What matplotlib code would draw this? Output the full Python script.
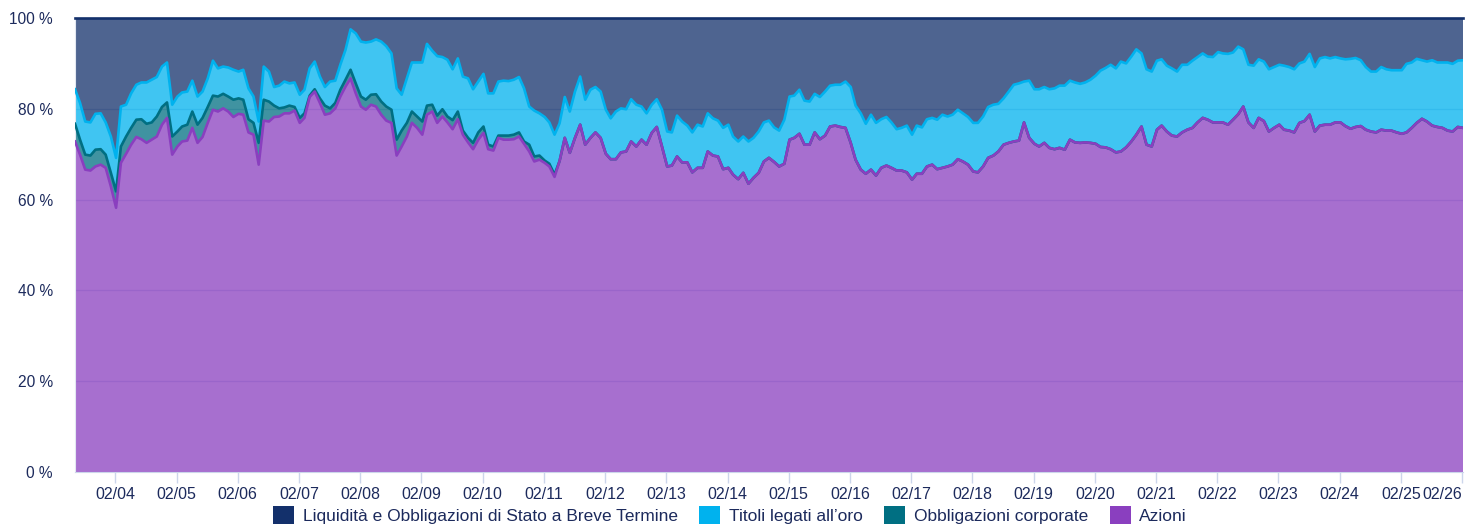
import matplotlib
matplotlib.use("Agg")
import matplotlib.pyplot as plt
import numpy as np
import pandas as pd
from matplotlib.patches import Patch

plt.rcParams['font.family'] = ['Liberation Sans', 'DejaVu Sans']

# ---------------- data (monthly, % of portfolio) ----------------
dates = pd.date_range('2003-06-06', periods=273, freq=pd.DateOffset(months=1)).to_pydatetime()

azioni = [
    72.8, 69.9, 66.6, 66.4, 67.3, 67.7, 67.0, 62.9, 58.2, 68.1,
    70.1, 72.1, 73.8, 73.3, 72.5, 73.2, 73.9, 76.5, 78.0, 69.9,
    71.7, 72.8, 73.0, 75.8, 72.5, 73.8, 76.9, 79.8, 79.4, 80.1,
    79.4, 78.2, 78.9, 78.7, 74.8, 74.3, 67.7, 77.4, 77.2, 78.2,
    78.3, 79.0, 79.0, 79.6, 76.9, 78.0, 82.6, 83.8, 81.3, 78.7,
    79.0, 80.1, 82.7, 84.9, 86.7, 83.4, 80.5, 79.8, 80.9, 80.5,
    78.7, 77.4, 76.9, 69.7, 71.7, 73.9, 76.9, 75.8, 74.3, 78.7,
    79.4, 76.9, 78.3, 77.0, 75.5, 77.7, 74.3, 72.6, 71.1, 73.2,
    74.7, 71.1, 70.8, 73.6, 73.2, 73.2, 73.3, 73.9, 72.3, 70.6,
    68.4, 68.8, 68.1, 67.3, 65.0, 68.5, 73.6, 70.3, 73.6, 76.5,
    72.1, 73.6, 74.8, 73.6, 70.1, 68.9, 68.9, 70.4, 70.6, 72.8,
    71.7, 73.2, 72.1, 74.7, 76.0, 71.7, 67.3, 67.5, 69.5, 68.2,
    68.2, 66.0, 67.0, 67.0, 70.6, 69.7, 69.5, 66.7, 67.0, 65.5,
    64.5, 65.9, 63.5, 64.8, 65.9, 68.4, 69.2, 68.3, 67.3, 67.9,
    73.2, 73.6, 74.5, 72.1, 72.1, 74.8, 73.3, 74.1, 76.1, 76.3,
    76.0, 75.8, 72.5, 68.8, 66.6, 65.7, 66.6, 65.3, 67.0, 67.5,
    67.0, 66.4, 66.4, 66.0, 64.4, 65.7, 65.7, 67.3, 67.7, 66.7,
    67.0, 67.3, 67.7, 68.9, 68.4, 67.7, 66.2, 66.0, 67.3, 69.2,
    69.7, 70.6, 72.1, 72.5, 72.8, 73.0, 77.0, 73.6, 72.3, 71.7,
    72.5, 71.4, 71.1, 71.4, 71.0, 73.2, 72.6, 72.5, 72.6, 72.5,
    72.3, 71.6, 71.5, 71.1, 70.4, 70.6, 71.5, 72.8, 74.3, 76.1,
    72.1, 71.7, 75.4, 76.3, 75.0, 74.1, 73.9, 74.8, 75.4, 75.8,
    77.0, 78.0, 77.6, 77.0, 77.0, 77.0, 76.5, 77.6, 78.8, 80.5,
    77.0, 75.8, 78.0, 77.3, 75.0, 75.8, 76.5, 75.4, 75.2, 74.8,
    76.9, 77.3, 78.7, 75.0, 76.3, 76.5, 76.5, 77.0, 77.0, 76.2,
    75.6, 76.0, 76.2, 75.4, 75.0, 74.8, 75.4, 75.2, 75.2, 74.8,
    74.5, 74.8, 75.8, 76.9, 77.8, 77.2, 76.3, 76.0, 75.8, 75.2,
    75.0, 76.0, 75.8,
]

corporate = [
    3.9, 3.3, 3.3, 3.3, 3.7, 3.4, 2.9, 3.0, 3.6, 3.6,
    3.8, 3.7, 3.8, 4.4, 4.2, 3.8, 4.4, 3.9, 3.4, 4.0,
    3.3, 3.3, 3.5, 3.6, 4.0, 4.2, 3.5, 3.1, 3.3, 3.2,
    3.3, 3.8, 3.4, 3.3, 2.9, 2.6, 4.8, 4.6, 4.4, 2.5,
    1.8, 1.3, 1.7, 0.8, 1.1, 1.0, 0.3, 0.5, 1.0, 2.0,
    1.1, 1.2, 1.5, 1.5, 1.9, 2.2, 2.2, 2.2, 2.2, 2.7,
    2.9, 3.1, 2.9, 3.5, 3.5, 3.0, 2.5, 2.5, 2.9, 2.0,
    1.5, 1.6, 1.6, 1.3, 2.0, 1.7, 0.9, 1.0, 1.4, 1.6,
    1.4, 1.0, 0.9, 0.5, 0.9, 0.9, 1.0, 0.9, 0.5, 1.5,
    1.1, 0.9, 0.5, 0.6, 0.5,
] + [0.0] * 178

oro = [
    7.6, 8.1, 7.3, 7.3, 7.9, 7.9, 7.1, 8.0, 7.4, 8.8,
    7.0, 7.6, 7.7, 8.1, 9.1, 9.4, 8.7, 8.9, 8.8, 7.0,
    7.7, 7.5, 7.3, 6.8, 6.2, 5.8, 6.3, 7.7, 6.2, 6.0,
    6.4, 6.6, 5.9, 6.6, 6.8, 5.8, 4.7, 7.3, 6.6, 4.1,
    5.0, 5.7, 4.9, 5.4, 5.1, 5.2, 6.0, 6.1, 4.8, 4.1,
    5.9, 4.9, 5.5, 6.6, 8.9, 11.0, 12.1, 12.6, 11.7, 12.1,
    13.2, 13.3, 12.4, 11.3, 7.9, 9.8, 10.8, 11.9, 13.0, 13.6,
    11.9, 13.1, 11.5, 12.5, 11.2, 11.7, 11.9, 13.1, 11.8, 11.2,
    11.6, 11.3, 11.7, 11.9, 12.1, 12.0, 12.1, 12.2, 11.7, 8.4,
    10.1, 9.3, 9.6, 9.1, 8.8, 8.3, 9.0, 9.1, 10.2, 10.6,
    9.9, 10.6, 10.0, 10.2, 9.7, 9.0, 10.5, 9.7, 9.3, 9.3,
    9.2, 7.3, 6.9, 6.2, 6.1, 8.1, 7.7, 7.3, 9.0, 9.0,
    8.1, 8.8, 9.5, 9.1, 8.4, 8.2, 7.9, 9.1, 9.5, 8.4,
    8.3, 8.0, 9.3, 8.8, 9.1, 8.6, 8.2, 7.6, 7.9, 9.7,
    9.5, 9.3, 9.7, 9.7, 9.5, 8.5, 9.3, 9.7, 9.0, 9.0,
    9.3, 10.2, 12.3, 11.9, 12.4, 11.0, 12.1, 11.6, 10.7, 10.7,
    10.0, 9.1, 9.4, 10.3, 9.9, 10.6, 10.2, 10.4, 10.3, 10.9,
    11.7, 11.0, 11.0, 10.9, 10.6, 10.5, 10.7, 10.9, 11.0, 11.2,
    11.2, 10.5, 10.2, 11.3, 12.5, 12.6, 9.0, 12.6, 12.0, 12.6,
    12.3, 12.9, 13.4, 13.7, 14.1, 13.0, 13.2, 13.0, 13.2, 13.9,
    15.0, 16.8, 17.5, 18.6, 18.5, 19.8, 18.5, 18.7, 18.8, 16.1,
    16.6, 16.5, 15.2, 14.6, 14.5, 14.8, 14.3, 14.9, 14.3, 14.8,
    14.4, 14.2, 13.9, 14.4, 15.5, 15.2, 15.6, 14.8, 14.9, 12.6,
    12.7, 13.7, 12.9, 13.1, 13.7, 13.4, 13.2, 14.1, 14.0, 13.9,
    13.1, 13.1, 13.4, 14.2, 14.8, 14.9, 14.6, 14.4, 14.1, 14.7,
    15.4, 15.2, 14.5, 13.8, 13.2, 13.4, 13.8, 13.5, 13.3, 13.7,
    14.0, 15.1, 14.4, 14.1, 12.9, 13.2, 14.4, 14.2, 14.4, 15.0,
    14.9, 14.6, 14.9,
]

liquidita = [
    15.7, 18.7, 22.8, 23.0, 21.1, 21.0, 23.0, 26.1, 30.8, 19.5,
    19.1, 16.6, 14.7, 14.2, 14.2, 13.6, 13.0, 10.7, 9.8, 19.1,
    17.3, 16.4, 16.2, 13.8, 17.3, 16.2, 13.3, 9.4, 11.1, 10.7,
    10.9, 11.4, 11.8, 11.4, 15.5, 17.3, 22.8, 10.7, 11.8, 15.2,
    14.9, 14.0, 14.4, 14.2, 16.9, 15.8, 11.1, 9.6, 12.9, 15.2,
    14.0, 13.8, 10.3, 7.0, 2.5, 3.4, 5.2, 5.4, 5.2, 4.7,
    5.2, 6.2, 7.8, 15.5, 16.9, 13.3, 9.8, 9.8, 9.8, 5.7,
    7.2, 8.4, 8.6, 9.2, 11.3, 8.9, 12.9, 13.3, 15.7, 14.0,
    12.3, 16.6, 16.6, 14.0, 13.8, 13.9, 13.6, 13.0, 15.5, 19.5,
    20.4, 21.0, 21.8, 23.0, 25.7, 23.2, 17.4, 20.6, 16.2, 12.9,
    18.0, 15.8, 15.2, 16.2, 20.2, 22.1, 20.6, 19.9, 20.1, 17.9,
    19.1, 19.5, 21.0, 19.1, 17.9, 20.2, 25.0, 25.2, 21.5, 22.8,
    23.7, 25.2, 23.5, 23.9, 21.0, 22.1, 22.6, 24.2, 23.5, 26.1,
    27.2, 26.1, 27.2, 26.4, 25.0, 23.0, 22.6, 24.1, 24.8, 22.4,
    17.3, 17.1, 15.8, 18.2, 18.4, 16.7, 17.4, 16.2, 14.9, 14.7,
    14.7, 14.0, 15.2, 19.3, 21.0, 23.3, 21.3, 23.1, 22.3, 21.8,
    23.0, 24.5, 24.2, 23.7, 25.7, 23.7, 24.1, 22.3, 22.0, 22.4,
    21.3, 21.7, 21.3, 20.2, 21.0, 21.8, 23.1, 23.1, 21.7, 19.6,
    19.1, 18.9, 17.7, 16.2, 14.7, 14.4, 14.0, 13.8, 15.7, 15.7,
    15.2, 15.7, 15.5, 14.9, 14.9, 13.8, 14.2, 14.5, 14.2, 13.6,
    12.7, 11.6, 11.0, 10.3, 11.1, 9.6, 10.0, 8.5, 6.9, 7.8,
    11.3, 11.8, 9.4, 9.1, 10.5, 11.1, 11.8, 10.3, 10.3, 9.4,
    8.6, 7.8, 8.5, 8.6, 7.5, 7.8, 7.9, 7.6, 6.3, 6.9,
    10.3, 10.5, 9.1, 9.6, 11.3, 10.8, 10.3, 10.5, 10.8, 11.3,
    10.0, 9.6, 7.9, 10.8, 8.9, 8.6, 8.9, 8.6, 8.9, 9.1,
    9.0, 8.8, 9.3, 10.8, 11.8, 11.8, 10.8, 11.3, 11.5, 11.5,
    11.5, 10.1, 9.8, 9.0, 9.3, 9.6, 9.3, 9.8, 9.8, 9.8,
    10.1, 9.4, 9.3,
]

series_names = ['Liquidità e Obbligazioni di Stato a Breve Termine',
                'Titoli legati all’oro',
                'Obbligazioni corporate',
                'Azioni']
series_colors = ['#13306b', '#00b2ee', '#006f82', '#8a3fbf']

tick_dates = pd.to_datetime([f'{y}-02-01' for y in range(2004, 2027)]).to_pydatetime()
tick_labels = ['02/04', '02/05', '02/06', '02/07', '02/08', '02/09', '02/10',
               '02/11', '02/12', '02/13', '02/14', '02/15', '02/16', '02/17',
               '02/18', '02/19', '02/20', '02/21', '02/22', '02/23', '02/24',
               '02/25', '02/26']
y_ticks = [0, 20, 40, 60, 80, 100]
y_labels = ['0 %', '20 %', '40 %', '60 %', '80 %', '100 %']

# ---------------- figure ----------------
W, H = 1469, 524
fig = plt.figure(figsize=(W / 100, H / 100), dpi=100)
ax = fig.add_axes([75 / W, 52 / H, 1388 / W, 454 / H])

text_color = '#1c2a5c'
grid_color = '#ccd6eb'

# percent stacking (as the original chart does)
raw = np.array([azioni, corporate, oro, liquidita], dtype=float)
pct = raw / raw.sum(axis=0) * 100.0

layer_colors = [series_colors[3], series_colors[2], series_colors[1], series_colors[0]]
ax.stackplot(dates, *pct, colors=layer_colors, alpha=0.75, linewidth=0, zorder=2)

tops = np.cumsum(pct, axis=0)
lw = 1.9
ax.plot(dates, tops[3], color=series_colors[0], lw=lw, zorder=3, clip_on=False,
        solid_joinstyle='round')
ax.plot(dates, tops[2], color=series_colors[1], lw=lw, zorder=4, solid_joinstyle='round')
ax.plot(dates, tops[1], color=series_colors[2], lw=lw, zorder=5, solid_joinstyle='round')
ax.plot(dates, tops[0], color=series_colors[3], lw=lw, zorder=6, solid_joinstyle='round')

ax.set_xlim(dates[0], dates[-1])
ax.set_ylim(0, 100)

ax.set_yticks(y_ticks)
ax.set_yticklabels(y_labels)
ax.set_xticks(tick_dates)
ax.set_xticklabels(tick_labels)
ax.get_xticklabels()[-1].set_horizontalalignment('right')

ax.set_axisbelow(True)
ax.yaxis.grid(True, color=grid_color, lw=1)
ax.xaxis.grid(False)

for s in ['top', 'right']:
    ax.spines[s].set_visible(False)
ax.spines['left'].set_color('#e3e8f1')
ax.spines['bottom'].set_color(grid_color)
ax.spines['bottom'].set_zorder(7)

ax.tick_params(axis='y', length=0, pad=16, labelsize=11.2, labelcolor=text_color)
ax.tick_params(axis='x', length=8, width=1, color=grid_color, pad=3,
               labelsize=11.5, labelcolor=text_color)

handles = [Patch(facecolor=c, edgecolor='none') for c in series_colors]
leg = fig.legend(handles, series_names, loc='center', ncol=4, frameon=False,
                 bbox_to_anchor=(0.497, 1 - 515 / H), fontsize=12.5,
                 handlelength=1.2, handleheight=1.2, handletextpad=0.5,
                 columnspacing=1.25, borderaxespad=0, borderpad=0)
for t in leg.get_texts():
    t.set_color(text_color)

fig.savefig('out.png', dpi=100)
